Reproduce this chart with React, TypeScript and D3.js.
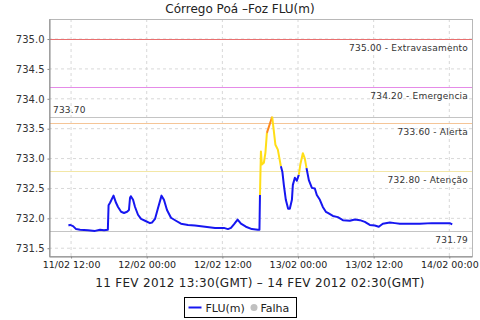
import React, { useEffect, useRef } from 'react';
import * as d3 from 'd3';

// times are local station time (GMT-2), values in metres
const times = [
  '2012-02-11 11:35', '2012-02-11 11:50', '2012-02-11 12:19', '2012-02-11 12:48', '2012-02-11 13:26',
  '2012-02-11 14:41', '2012-02-11 15:48', '2012-02-11 16:36', '2012-02-11 17:14', '2012-02-11 17:50',
  '2012-02-11 17:57', '2012-02-11 18:11', '2012-02-11 18:44', '2012-02-11 19:08', '2012-02-11 19:27',
  '2012-02-11 19:56', '2012-02-11 20:24', '2012-02-11 20:53', '2012-02-11 21:11', '2012-02-11 21:21',
  '2012-02-11 21:29', '2012-02-11 21:50', '2012-02-11 22:09', '2012-02-11 22:37', '2012-02-11 23:06',
  '2012-02-11 23:44', '2012-02-12 00:31', '2012-02-12 00:50', '2012-02-12 01:19', '2012-02-12 01:47',
  '2012-02-12 02:21', '2012-02-12 02:44', '2012-02-12 03:13', '2012-02-12 03:51', '2012-02-12 04:38',
  '2012-02-12 05:26', '2012-02-12 06:33', '2012-02-12 07:39', '2012-02-12 09:15', '2012-02-12 10:50',
  '2012-02-12 12:15', '2012-02-12 12:53', '2012-02-12 13:22', '2012-02-12 13:50', '2012-02-12 14:25',
  '2012-02-12 14:57', '2012-02-12 15:44', '2012-02-12 16:41', '2012-02-12 17:38', '2012-02-12 17:53',
  '2012-02-12 17:58', '2012-02-12 18:07', '2012-02-12 18:16', '2012-02-12 18:35', '2012-02-12 18:50',
  '2012-02-12 19:04', '2012-02-12 19:54', '2012-02-12 20:25', '2012-02-12 20:48', '2012-02-12 21:17',
  '2012-02-12 21:31', '2012-02-12 21:45', '2012-02-12 22:04', '2012-02-12 22:26', '2012-02-12 22:42',
  '2012-02-12 23:02', '2012-02-12 23:11', '2012-02-12 23:30', '2012-02-12 23:49', '2012-02-13 00:08',
  '2012-02-13 00:22', '2012-02-13 00:46', '2012-02-13 01:05', '2012-02-13 01:21', '2012-02-13 01:43',
  '2012-02-13 02:12', '2012-02-13 02:40', '2012-02-13 02:59', '2012-02-13 03:28', '2012-02-13 03:56',
  '2012-02-13 04:25', '2012-02-13 04:44', '2012-02-13 05:32', '2012-02-13 06:19', '2012-02-13 07:07',
  '2012-02-13 08:13', '2012-02-13 09:01', '2012-02-13 09:49', '2012-02-13 10:36', '2012-02-13 11:23',
  '2012-02-13 12:11', '2012-02-13 12:49', '2012-02-13 13:27', '2012-02-13 14:34', '2012-02-13 15:22',
  '2012-02-13 16:09', '2012-02-13 17:44', '2012-02-13 19:19', '2012-02-13 21:13', '2012-02-13 23:17',
  '2012-02-14 00:04', '2012-02-14 00:28',
];

const levels = [
  731.88, 731.89, 731.87, 731.82, 731.81, 731.80, 731.79, 731.81, 731.80, 731.81,
  732.22, 732.26, 732.38, 732.26, 732.19, 732.11, 732.09, 732.11, 732.14, 732.34,
  732.37, 732.31, 732.19, 732.06, 731.99, 731.96, 731.92, 731.93, 731.99, 732.17,
  732.38, 732.31, 732.14, 732.01, 731.96, 731.91, 731.89, 731.88, 731.86, 731.84,
  731.84, 731.82, 731.84, 731.90, 731.98, 731.91, 731.86, 731.82, 731.81, 731.81,
  732.39, 733.12, 732.90, 732.93, 733.10, 733.43, 733.70, 733.23, 733.15, 732.87,
  732.78, 732.56, 732.31, 732.16, 732.16, 732.31, 732.56, 732.68, 732.63, 732.73,
  732.90, 733.09, 733.00, 732.84, 732.64, 732.51, 732.50, 732.39, 732.31, 732.19,
  732.11, 732.09, 732.04, 732.02, 731.97, 731.96, 731.98, 731.97, 731.94, 731.89,
  731.88, 731.86, 731.91, 731.93, 731.92, 731.91, 731.91, 731.91, 731.92, 731.92,
  731.92, 731.90,
];

const markValues = [735.0, 734.2, 733.7, 733.6, 732.8, 731.79];
const markLabels = ['735.00 - Extravasamento', '734.20 - Emergencia', '733.70', '733.60 - Alerta', '732.80 - Atenção', '731.79'];
const markColors = ['#e87070', '#e58be8', '#c4c4c4', '#f5c597', '#f3e7a6', '#c4c4c4'];

const yTicks = [731.5, 732.0, 732.5, 733.0, 733.5, 734.0, 734.5, 735.0];
const xTicks = ['2012-02-11 12:00', '2012-02-12 00:00', '2012-02-12 12:00', '2012-02-13 00:00', '2012-02-13 12:00', '2012-02-14 00:00'];

const title = 'Córrego Poá –Foz FLU(m)';
const xTitle = '11 FEV 2012 13:30(GMT) – 14 FEV 2012 02:30(GMT)';
const legendItems = ['FLU(m)', 'Falha'];

const font = 'DejaVu Sans, sans-serif';

const App = () => {
  const ref = useRef<HTMLDivElement>(null);

  useEffect(() => {
    d3.select(ref.current).selectAll('svg').remove();
    const W = 480, H = 320;
    const margin = { top: 19, right: 8, bottom: 64, left: 49 };
    const width = W - margin.left - margin.right;
    const height = H - margin.top - margin.bottom;

    const parse = d3.utcParse('%Y-%m-%d %H:%M');
    const data = times.map((t, i) => ({ t: parse(t) as Date, v: levels[i] }));

    const svg = d3.select(ref.current).append('svg')
      .attr('width', W).attr('height', H)
      .style('display', 'block')
      .style('font-family', font);

    svg.append('rect').attr('width', W).attr('height', H).attr('fill', '#fff');

    const x = d3.scaleUtc()
      .domain([parse('2012-02-11 08:30') as Date, parse('2012-02-14 03:36') as Date])
      .range([0, width]);
    const y = d3.scaleLinear().domain([731.37, 735.335]).range([height, 0]);

    const g = svg.append('g').attr('transform', `translate(${margin.left},${margin.top})`);

    // grid
    g.selectAll('.gx').data(xTicks).enter().append('line')
      .attr('x1', d => x(parse(d) as Date)).attr('x2', d => x(parse(d) as Date))
      .attr('y1', 0).attr('y2', height)
      .attr('stroke', '#d8d8d8').attr('stroke-dasharray', '3,3');
    g.selectAll('.gy').data(yTicks).enter().append('line')
      .attr('x1', 0).attr('x2', width)
      .attr('y1', d => y(d)).attr('y2', d => y(d))
      .attr('stroke', '#d8d8d8').attr('stroke-dasharray', '3,3');

    // threshold lines
    g.selectAll('.mark').data(markValues).enter().append('line')
      .attr('x1', 0).attr('x2', width)
      .attr('y1', d => Math.round(y(d)) + 0.5).attr('y2', d => Math.round(y(d)) + 0.5)
      .attr('stroke', (d, i) => markColors[i]).attr('stroke-width', 1.2);

    g.selectAll('.markLabel').data(markValues).enter().append('text')
      .attr('x', (d, i) => (i === 2 ? 4 : width - 4))
      .attr('y', (d, i) => (i === 2 ? y(d) - 4 : y(d) + 12))
      .attr('text-anchor', (d, i) => (i === 2 ? 'start' : 'end'))
      .attr('font-size', 9)
      .attr('letter-spacing', 0.2)
      .attr('fill', '#333')
      .text((d, i) => markLabels[i]);

    // line coloured per segment by the level it reaches
    const colorFor = (v: number) => (v > 733.6 ? '#ff8a1c' : v > 732.8 ? '#ffde17' : '#1616f0');
    const runs: { color: string; pts: typeof data }[] = [];
    for (let i = 1; i < data.length; i++) {
      const c = colorFor(data[i].v);
      const last = runs[runs.length - 1];
      if (last && last.color === c) last.pts.push(data[i]);
      else runs.push({ color: c, pts: [data[i - 1], data[i]] });
    }
    const line = d3.line<{ t: Date; v: number }>().x(d => x(d.t)).y(d => y(d.v));
    g.selectAll('.run').data(runs).enter().append('path')
      .attr('d', d => line(d.pts))
      .attr('fill', 'none')
      .attr('stroke', d => d.color)
      .attr('stroke-width', 2)
      .attr('stroke-linejoin', 'round');

    // frame
    g.append('rect').attr('x', 0.5).attr('y', 0.5).attr('width', width).attr('height', height)
      .attr('fill', 'none').attr('stroke', '#b8b8b8');

    const xAxis = d3.axisBottom(x)
      .tickValues(xTicks.map(d => parse(d) as Date))
      .tickFormat(d3.utcFormat('%d/%m %H:%M') as any)
      .tickSize(2).tickSizeOuter(0).tickPadding(3);
    const yAxis = d3.axisLeft(y).tickValues(yTicks).tickFormat(d3.format('.1f'))
      .tickSize(2).tickSizeOuter(0).tickPadding(3);

    const gx = g.append('g').attr('transform', `translate(0,${height + 0.5})`).call(xAxis);
    gx.selectAll('text').attr('font-size', 9.5).attr('font-family', font).attr('fill', '#222');
    const gy = g.append('g').attr('transform', 'translate(0.5,0)').call(yAxis);
    gy.selectAll('text').attr('font-size', 10).attr('font-family', font).attr('fill', '#333');
    [gx, gy].forEach(a => {
      a.select('.domain').attr('stroke', '#888');
      a.selectAll('.tick line').attr('stroke', '#888');
    });

    svg.append('text').attr('x', 240).attr('y', 13).attr('text-anchor', 'middle')
      .attr('font-size', 12).attr('fill', '#222').text(title);

    svg.append('text').attr('x', 260).attr('y', 287).attr('text-anchor', 'middle')
      .attr('font-size', 12).attr('letter-spacing', 0.3).attr('fill', '#222').text(xTitle);

    // legend
    const lg = svg.append('g').attr('transform', 'translate(184.5,297.5)');
    lg.append('rect').attr('width', 112).attr('height', 20).attr('fill', '#fff').attr('stroke', '#000');
    lg.append('line').attr('x1', 4).attr('x2', 17).attr('y1', 10).attr('y2', 10)
      .attr('stroke', '#1616f0').attr('stroke-width', 2);
    lg.append('text').attr('x', 21).attr('y', 14).attr('font-size', 11).attr('fill', '#222').text(legendItems[0]);
    lg.append('circle').attr('cx', 69.5).attr('cy', 10).attr('r', 3.5).attr('fill', '#c0c0c0');
    lg.append('text').attr('x', 76).attr('y', 14).attr('font-size', 11).attr('fill', '#222').text(legendItems[1]);
  }, []);

  return <div ref={ref} style={{ position: 'fixed', left: 0, top: 0 }}></div>;
};

export default App;
